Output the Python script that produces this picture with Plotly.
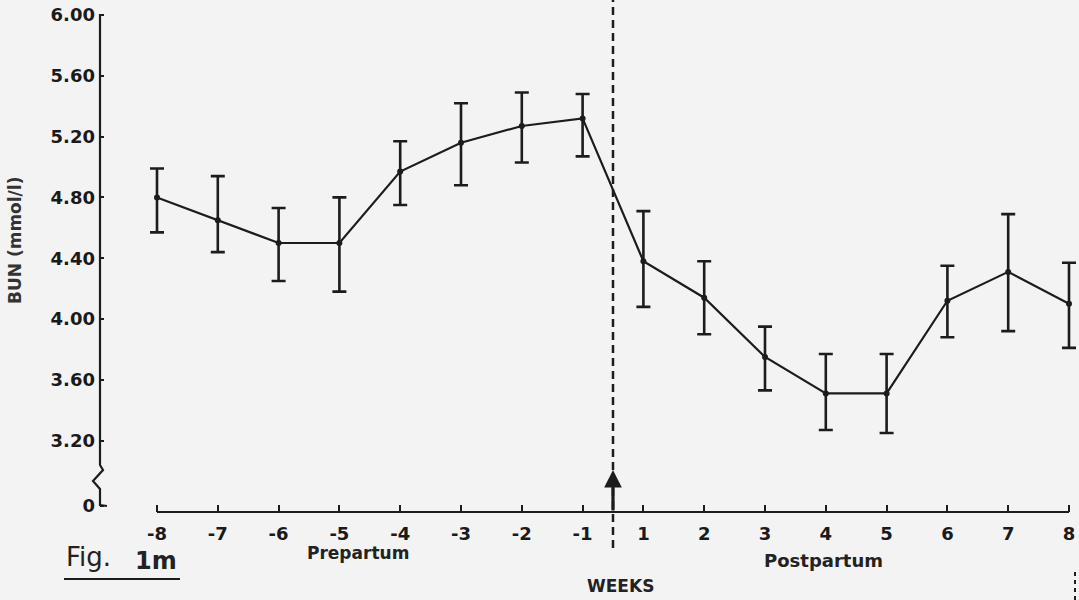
import plotly.graph_objects as go

# ---- data ----
weeks = ["-8", "-7", "-6", "-5", "-4", "-3", "-2", "-1",
         "1", "2", "3", "4", "5", "6", "7", "8"]
bun_mean = [4.80, 4.65, 4.50, 4.50, 4.97, 5.16, 5.27, 5.32,
            4.38, 4.14, 3.75, 3.51, 3.51, 4.12, 4.31, 4.10]
bun_upper = [4.99, 4.94, 4.73, 4.80, 5.17, 5.42, 5.49, 5.48,
             4.71, 4.38, 3.95, 3.77, 3.77, 4.35, 4.69, 4.37]
bun_lower = [4.57, 4.44, 4.25, 4.18, 4.75, 4.88, 5.03, 5.07,
             4.08, 3.90, 3.53, 3.27, 3.25, 3.88, 3.92, 3.81]
y_tick_values = [3.20, 3.60, 4.00, 4.40, 4.80, 5.20, 5.60, 6.00]
y_tick_labels = ["3.20", "3.60", "4.00", "4.40", "4.80", "5.20", "5.60", "6.00"]
axis_zero_pos = 2.77     # where the broken axis places "0"
parturition_pos = 7.5    # between week -1 and week 1

# ---- geometry helpers ----
W, H = 1079, 600
ML, MR, MT, MB = 100, 0, 12, 88
PW, PH = W - ML - MR, H - MT - MB


def px_x(px):
    return (px - ML) / PW


def px_y(py):
    return (H - MB - py) / PH


pos = list(range(len(weeks)))
err_plus = [u - m for u, m in zip(bun_upper, bun_mean)]
err_minus = [m - l for m, l in zip(bun_mean, bun_lower)]

INK = "#1c1c1c"
BG = "#f3f3f3"

fig = go.Figure()
fig.add_trace(go.Scatter(
    x=pos, y=bun_mean, mode="lines+markers",
    line=dict(color=INK, width=2.2),
    marker=dict(color=INK, size=6),
    error_y=dict(type="data", symmetric=False, array=err_plus,
                 arrayminus=err_minus, color=INK, thickness=2.6, width=7),
    showlegend=False, cliponaxis=False,
))

shapes = []
# x axis baseline (starts at week -8)
shapes.append(dict(type="line", xref="x", yref="paper", x0=0, x1=len(weeks) - 1,
                   y0=0, y1=0, line=dict(color=INK, width=2)))
# y axis with break
path = (f"M 0,{px_y(14)} L 0,{px_y(465)} L {px_x(103)},{px_y(470)} L {px_x(93)},{px_y(481)} "
        f"L 0,{px_y(489)} L 0,{px_y(505)} L {px_x(107)},{px_y(506)}")
shapes.append(dict(type="path", xref="paper", yref="paper", path=path,
                   line=dict(color=INK, width=2.2)))
# dashed parturition line
shapes.append(dict(type="line", xref="x", yref="paper", x0=parturition_pos,
                   x1=parturition_pos, y0=px_y(548), y1=px_y(0),
                   line=dict(color=INK, width=2.5, dash="8px,5px")))
# underline of figure label
shapes.append(dict(type="line", xref="paper", yref="paper", x0=px_x(64), x1=px_x(180),
                   y0=px_y(579), y1=px_y(579), line=dict(color=INK, width=2)))
# stray dashed mark bottom right
shapes.append(dict(type="line", xref="paper", yref="paper", x0=px_x(1075), x1=px_x(1075),
                   y0=px_y(600), y1=px_y(568),
                   line=dict(color=INK, width=2, dash="4px,4px")))

FONT = "DejaVu Sans"


def label(px, py, text, size, bold=True, xanchor="center", angle=0, color="#222"):
    return dict(x=px_x(px), y=px_y(py), xref="paper", yref="paper", text=text,
                xanchor=xanchor, yanchor="middle", textangle=angle, showarrow=False,
                font=dict(family=FONT, size=size, color=color,
                          weight="bold" if bold else "normal"))


annotations = [
    dict(x=parturition_pos, xref="x", y=px_y(470), yref="paper", text="",
         showarrow=True, ax=0, ay=42, arrowhead=2, arrowsize=1.1,
         arrowwidth=3.2, arrowcolor=INK),
    label(358, 553, "Prepartum", 17),
    label(823, 560, "Postpartum", 18),
    label(620, 586, "WEEKS", 17),
    label(64, 557, "Fig.", 26, bold=False, xanchor="left"),
    label(133, 561, "1m", 24, xanchor="left"),
    label(15, 241, "BUN (mmol/l)", 17, angle=-90, color="#333"),
]

fig.update_layout(
    width=W, height=H,
    margin=dict(l=ML, r=MR, t=MT, b=MB),
    paper_bgcolor=BG, plot_bgcolor=BG,
    shapes=shapes, annotations=annotations,
    xaxis=dict(range=[(ML - 157) / 60.8, (W - 157) / 60.8], tickmode="array",
               tickvals=pos, ticktext=weeks, ticks="inside", ticklen=7,
               tickwidth=2, tickcolor=INK, showgrid=False, zeroline=False,
               showline=False, ticklabelstandoff=9,
               tickfont=dict(family=FONT, size=18, color="#1a1a1a", weight="bold")),
    yaxis=dict(range=[2.73, 6.02], tickmode="array",
               tickvals=[axis_zero_pos] + y_tick_values,
               ticktext=["0"] + y_tick_labels, ticks="inside", ticklen=4,
               tickwidth=2, tickcolor=INK, showgrid=False, zeroline=False,
               showline=False, ticklabelstandoff=4,
               tickfont=dict(family=FONT, size=18, color="#1a1a1a", weight="bold")),
)

fig.write_html("out.html", config={"displayModeBar": False},
               post_script="document.body.style.margin='0';")
